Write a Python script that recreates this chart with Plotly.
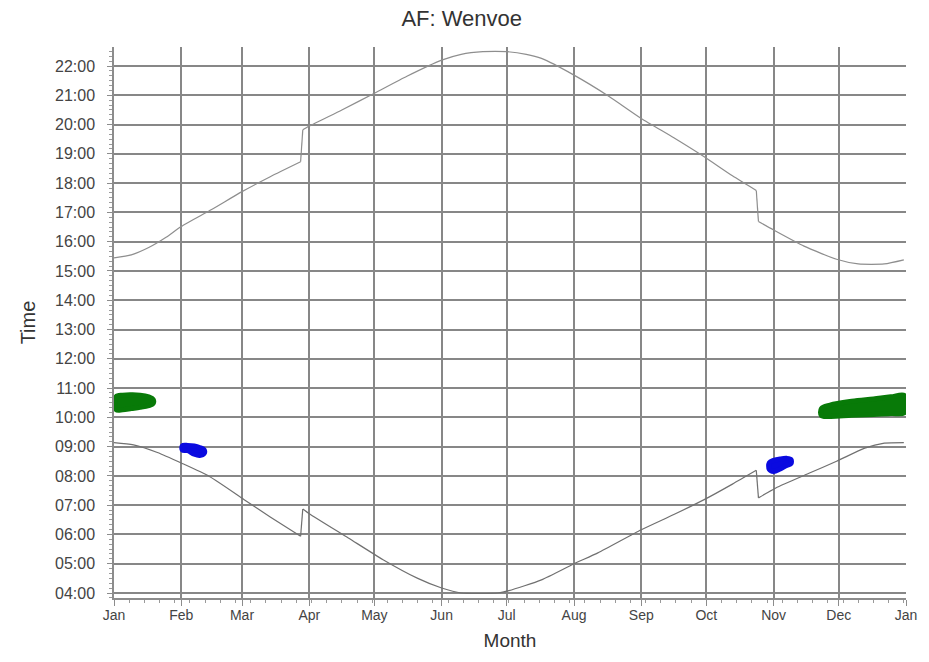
import plotly.graph_objects as go

# Month boundaries (day of year, 0 = 1 Jan) and their labels
month_days = [0, 31, 59, 90, 120, 151, 181, 212, 243, 273, 304, 334, 365]
month_names = ["Jan", "Feb", "Mar", "Apr", "May", "Jun", "Jul",
               "Aug", "Sep", "Oct", "Nov", "Dec", "Jan"]

# Hour ticks on the time axis
hour_ticks = list(range(4, 23))
hour_labels = [f"{h:02d}:00" for h in hour_ticks]

# Evening limit (hours, local clock time)
evening_days = [0, 8, 16, 24, 31, 45, 59, 72, 86, 87, 90, 105, 120, 135, 151,
                160, 170, 181, 190, 197, 212, 228, 243, 258, 272, 285, 296,
                297, 304, 318, 333, 343, 355, 364]
evening_hours = [15.45, 15.55, 15.80, 16.15, 16.52, 17.10, 17.71, 18.22, 18.73,
                 19.82, 19.95, 20.50, 21.07, 21.65, 22.20, 22.40, 22.49, 22.49,
                 22.40, 22.26, 21.69, 20.97, 20.21, 19.55, 18.90, 18.25, 17.75,
                 16.69, 16.40, 15.85, 15.40, 15.24, 15.24, 15.38]

# Morning limit (hours, local clock time)
morning_days = [0, 9, 20, 31, 44, 60, 72, 86, 87, 90, 108, 124, 140, 151, 160,
                177, 182, 197, 212, 223, 243, 258, 272, 285, 296, 297, 305,
                320, 333, 346, 355, 364]
morning_hours = [9.14, 9.06, 8.80, 8.44, 7.98, 7.19, 6.60, 5.94, 6.87, 6.71,
                 5.88, 5.14, 4.50, 4.17, 4.00, 4.00, 4.08, 4.45, 5.00, 5.37,
                 6.16, 6.68, 7.19, 7.72, 8.19, 7.25, 7.59, 8.08, 8.50, 8.95,
                 9.12, 9.14]

# Reflection periods: day, earliest and latest time
jan_days = [1, 4, 8, 12, 16, 18]
jan_low = [10.26, 10.26, 10.30, 10.34, 10.40, 10.47]
jan_high = [10.71, 10.76, 10.77, 10.76, 10.70, 10.62]

feb_days = [31.5, 34, 37, 39.5, 41.5]
feb_low = [8.88, 8.86, 8.74, 8.70, 8.76]
feb_high = [9.03, 9.04, 9.02, 8.97, 8.90]

nov_days = [302, 304, 307, 310, 312]
nov_low = [8.22, 8.15, 8.24, 8.36, 8.42]
nov_high = [8.45, 8.53, 8.58, 8.60, 8.56]

dec_days = [326, 330, 340, 350, 358, 364.5]
dec_low = [10.06, 10.03, 10.07, 10.10, 10.13, 10.17]
dec_high = [10.30, 10.42, 10.55, 10.63, 10.70, 10.74]

GREEN = "#087a08"
BLUE = "#0a0ae0"
GRID = "#878787"
AXIS = "#8c8c8c"
FONT = "Liberation Sans, Arial, sans-serif"

fig = go.Figure()


def add_curve(days, hours, color):
    """Smooth runs between clock changes, straight steps at the changes."""
    cuts = [i for i in range(1, len(days))
            if days[i] - days[i - 1] <= 1 and abs(hours[i] - hours[i - 1]) > 0.5]
    bounds = [0] + cuts + [len(days)]
    for a, b in zip(bounds[:-1], bounds[1:]):
        fig.add_trace(go.Scatter(x=days[a:b], y=hours[a:b], mode="lines",
                                 line=dict(color=color, width=1.2,
                                           shape="spline", smoothing=0.6),
                                 hoverinfo="skip", showlegend=False))
    for i in cuts:
        fig.add_trace(go.Scatter(x=days[i - 1:i + 1], y=hours[i - 1:i + 1],
                                 mode="lines", line=dict(color=color, width=1.2),
                                 hoverinfo="skip", showlegend=False))


add_curve(evening_days, evening_hours, "#8e8e8e")
add_curve(morning_days, morning_hours, "#707070")


def add_patch(days, low, high, color):
    xs = list(days) + list(days)[::-1] + [days[0]]
    ys = list(low) + list(high)[::-1] + [low[0]]
    fig.add_trace(go.Scatter(x=xs, y=ys, mode="lines", fill="toself",
                             fillcolor=color,
                             line=dict(color=color, width=5, shape="spline",
                                       smoothing=1.0),
                             hoverinfo="skip", showlegend=False))


add_patch(jan_days, jan_low, jan_high, GREEN)
add_patch(feb_days, feb_low, feb_high, BLUE)
add_patch(nov_days, nov_low, nov_high, BLUE)
add_patch(dec_days, dec_low, dec_high, GREEN)

# Empty trace so the labelled month axis has a subplot of its own
fig.add_trace(go.Scatter(x=[], y=[], xaxis="x2", yaxis="y",
                         hoverinfo="skip", showlegend=False))

fig.update_layout(
    width=929, height=662,
    margin=dict(l=114, r=21, t=47, b=64),
    paper_bgcolor="white", plot_bgcolor="white",
    font=dict(family=FONT, color="#333333", size=14),
    title=dict(text="AF: Wenvoe", x=0.497, xref="container", xanchor="center",
               y=0.972, yref="container", yanchor="middle",
               font=dict(size=22, color="#333333")),
    showlegend=False,
    # month gridlines (no line on the closing January)
    xaxis=dict(
        range=[0, 365],
        tickmode="array", tickvals=month_days[:-1],
        showticklabels=False, ticks="",
        showgrid=True, gridcolor=GRID, gridwidth=1.5,
        showline=False, zeroline=False,
    ),
    # month labels, ticks and weekly minor ticks
    xaxis2=dict(
        overlaying="x", anchor="y", side="bottom",
        range=[0, 365],
        tickmode="array", tickvals=month_days, ticktext=month_names,
        showgrid=False, zeroline=False,
        showline=True, linecolor=AXIS, linewidth=1.5,
        ticks="outside", ticklen=6, tickcolor=AXIS, tickwidth=1,
        minor=dict(tickmode="linear", tick0=0, dtick=7, ticks="outside",
                   ticklen=3, tickcolor="#9a9a9a", showgrid=False),
        ticklabelstandoff=-3,
        tickfont=dict(size=14, color="#444444"),
        title=dict(text="Month", font=dict(size=19, color="#333333"),
                   standoff=12),
    ),
    yaxis=dict(
        range=[3.83, 22.65],
        tickmode="array", tickvals=hour_ticks, ticktext=hour_labels,
        showgrid=True, gridcolor=GRID, gridwidth=1.5,
        showline=True, linecolor=AXIS, linewidth=1.5,
        ticks="outside", ticklen=5, tickcolor=AXIS, tickwidth=1,
        minor=dict(tickmode="linear", tick0=0, dtick=1 / 6, ticks="outside",
                   ticklen=3, tickcolor="#9a9a9a", showgrid=False),
        zeroline=False,
        ticklabelstandoff=9,
        tickfont=dict(size=16, color="#444444"),
        title=dict(text="Time", font=dict(size=20, color="#333333"),
                   standoff=14),
    ),
)

fig.write_html("out.html")
